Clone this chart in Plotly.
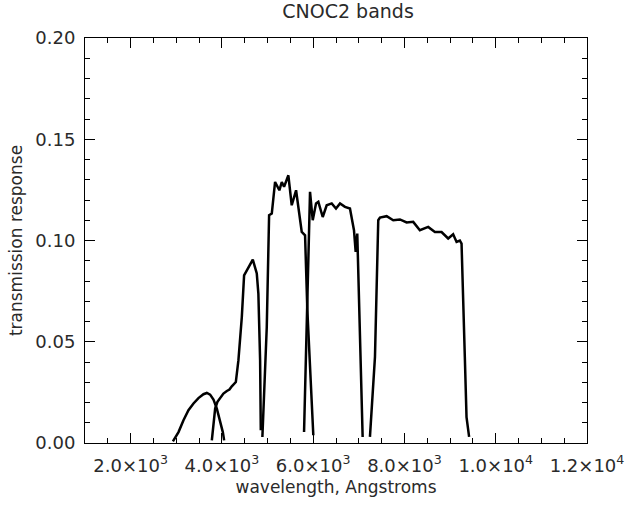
import plotly.graph_objects as go

# Filter curves (wavelength in Angstroms, transmission response)
u_wave = [2926, 3049, 3158, 3267, 3377, 3486, 3596, 3670, 3742, 3815, 3889, 3961, 4020, 4049]
u_resp = [0.0008, 0.0054, 0.0112, 0.0162, 0.0195, 0.0222, 0.0241, 0.0247, 0.0239, 0.0214, 0.0170, 0.0112, 0.0054, 0.0013]

b_wave = [3779, 3815, 3852, 3902, 3961, 4033, 4108, 4165, 4217, 4268, 4305, 4362, 4436, 4486, 4581, 4677, 4764, 4799, 4837, 4852]
b_resp = [0.0013, 0.0104, 0.0170, 0.0203, 0.0224, 0.0244, 0.0257, 0.0264, 0.0280, 0.0290, 0.0301, 0.0409, 0.0622, 0.0828, 0.0869, 0.0906, 0.0837, 0.0738, 0.0409, 0.0063]

v_wave = [4887, 4983, 5034, 5093, 5165, 5259, 5312, 5362, 5456, 5530, 5625, 5749, 5822, 5872, 6003]
v_resp = [0.0030, 0.0573, 0.1125, 0.1133, 0.1289, 0.1248, 0.1289, 0.1265, 0.1322, 0.1174, 0.1248, 0.1042, 0.1026, 0.0656, 0.0038]

r_wave = [5800, 5854, 5931, 5990, 6062, 6113, 6209, 6296, 6406, 6500, 6588, 6697, 6806, 6894, 6931, 6966, 7010, 7084]
r_resp = [0.0054, 0.0557, 0.1240, 0.1100, 0.1183, 0.1191, 0.1116, 0.1174, 0.1183, 0.1158, 0.1183, 0.1166, 0.1158, 0.1051, 0.0944, 0.1034, 0.0672, 0.0030]

i_wave = [7244, 7354, 7426, 7463, 7610, 7754, 7901, 8047, 8192, 8338, 8520, 8667, 8813, 8958, 9067, 9142, 9214, 9251, 9323, 9360, 9417]
i_resp = [0.0030, 0.0425, 0.1100, 0.1113, 0.1120, 0.1100, 0.1104, 0.1089, 0.1092, 0.1051, 0.1067, 0.1042, 0.1042, 0.1010, 0.1031, 0.0993, 0.1000, 0.0985, 0.0425, 0.0128, 0.0030]

x_tickvals = [2000, 4000, 6000, 8000, 10000, 12000]
x_ticktext = ["2.0×10<sup>3</sup>", "4.0×10<sup>3</sup>", "6.0×10<sup>3</sup>",
              "8.0×10<sup>3</sup>", "1.0×10<sup>4</sup>", "1.2×10<sup>4</sup>"]
y_tickvals = [0.0, 0.05, 0.10, 0.15, 0.20]
y_ticktext = ["0.00", "0.05", "0.10", "0.15", "0.20"]

FONT = "DejaVu Sans"
TXT = "#2a2a2a"

fig = go.Figure()
for xs, ys in [(u_wave, u_resp), (b_wave, b_resp), (v_wave, v_resp), (r_wave, r_resp), (i_wave, i_resp)]:
    fig.add_trace(go.Scatter(x=xs, y=ys, mode="lines",
                             line=dict(color="black", width=2.5),
                             showlegend=False, hoverinfo="skip"))

axis_common = dict(showgrid=False, zeroline=False, showline=True, linecolor="black", linewidth=1,
                   mirror="allticks", ticks="inside", tickcolor="black", tickwidth=1, ticklen=10,
                   automargin=False,
                   tickfont=dict(family=FONT, size=18, color=TXT))

fig.update_layout(
    width=631, height=508,
    margin=dict(l=85, r=44, t=38, b=65, autoexpand=False),
    paper_bgcolor="white", plot_bgcolor="white",
    title=dict(text="CNOC2 bands", x=0.524, xref="paper", xanchor="center",
               y=1, yref="container", yanchor="top", pad=dict(t=5),
               font=dict(family=FONT, size=19, color=TXT)),
    xaxis=dict(range=[1000, 12000], tickmode="array", tickvals=x_tickvals, ticktext=x_ticktext,
               minor=dict(dtick=500, tick0=0, ticks="inside", ticklen=5, tickcolor="black", tickwidth=1),
               title=dict(text="wavelength, Angstroms", font=dict(family=FONT, size=17, color=TXT), standoff=6),
               ticklabelstandoff=6,
               **axis_common),
    yaxis=dict(range=[0, 0.20], tickmode="array", tickvals=y_tickvals, ticktext=y_ticktext,
               minor=dict(dtick=0.01, tick0=0, ticks="inside", ticklen=5, tickcolor="black", tickwidth=1),
               title=dict(text="transmission response", font=dict(family=FONT, size=17, color=TXT), standoff=8),
               ticklabelstandoff=5,
               **axis_common),
)

fig.write_html("out.html")
